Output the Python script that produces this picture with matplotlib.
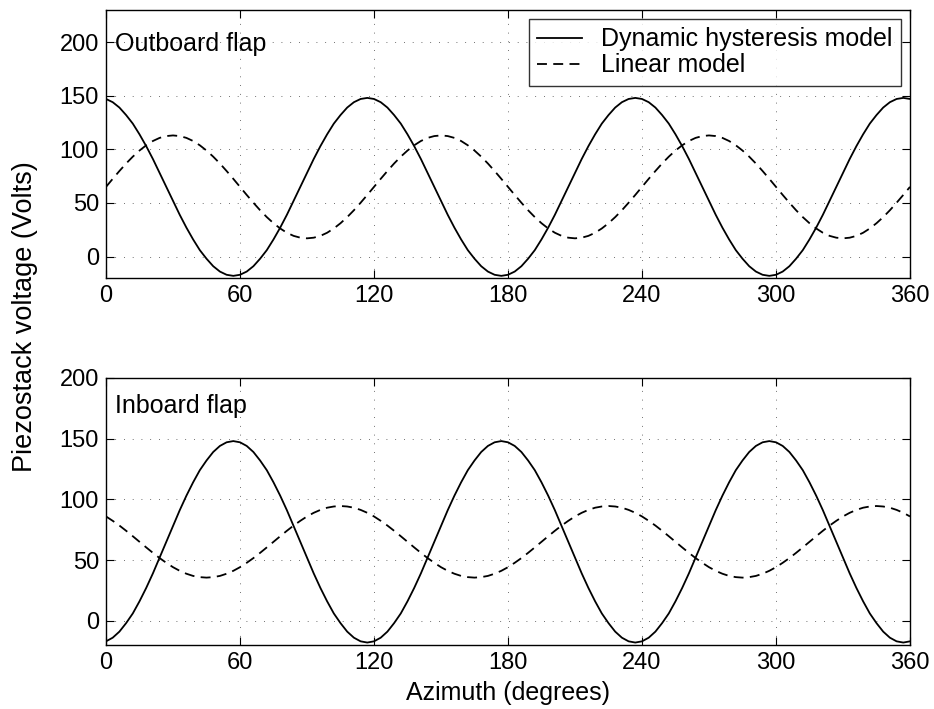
import matplotlib
matplotlib.use("Agg")
import matplotlib.pyplot as plt
import numpy as np

plt.rcParams['font.family'] = ['Liberation Sans', 'DejaVu Sans']

# azimuth samples (degrees), every 3 deg
azimuth = np.arange(0, 361, 3)

# outboard flap (Volts)
outboard_hyst = [
    147, 144, 139, 132, 124, 114, 103, 91, 78, 65, 52, 39, 27, 16, 6, -2, -9, -14, -17, -18,
    -17, -14, -9, -2, 6, 16, 27, 39, 52, 65, 78, 91, 103, 114, 124, 132, 139, 144, 147, 148,
    147, 144, 139, 132, 124, 114, 103, 91, 78, 65, 52, 39, 27, 16, 6, -2, -9, -14, -17, -18,
    -17, -14, -9, -2, 6, 16, 27, 39, 52, 65, 78, 91, 103, 114, 124, 132, 139, 144, 147, 148,
    147, 144, 139, 132, 124, 114, 103, 91, 78, 65, 52, 39, 27, 16, 6, -2, -9, -14, -17, -18,
    -17, -14, -9, -2, 6, 16, 27, 39, 52, 65, 78, 91, 103, 114, 124, 132, 139, 144, 147, 148,
    147]
outboard_lin = [
    65, 72.5, 79.8, 86.8, 93.2, 98.9, 103.8, 107.8, 110.7, 112.4, 113, 112.4, 110.7, 107.8, 103.8, 98.9, 93.2, 86.8, 79.8, 72.5,
    65, 57.5, 50.2, 43.2, 36.8, 31.1, 26.2, 22.2, 19.3, 17.6, 17, 17.6, 19.3, 22.2, 26.2, 31.1, 36.8, 43.2, 50.2, 57.5,
    65, 72.5, 79.8, 86.8, 93.2, 98.9, 103.8, 107.8, 110.7, 112.4, 113, 112.4, 110.7, 107.8, 103.8, 98.9, 93.2, 86.8, 79.8, 72.5,
    65, 57.5, 50.2, 43.2, 36.8, 31.1, 26.2, 22.2, 19.3, 17.6, 17, 17.6, 19.3, 22.2, 26.2, 31.1, 36.8, 43.2, 50.2, 57.5,
    65, 72.5, 79.8, 86.8, 93.2, 98.9, 103.8, 107.8, 110.7, 112.4, 113, 112.4, 110.7, 107.8, 103.8, 98.9, 93.2, 86.8, 79.8, 72.5,
    65, 57.5, 50.2, 43.2, 36.8, 31.1, 26.2, 22.2, 19.3, 17.6, 17, 17.6, 19.3, 22.2, 26.2, 31.1, 36.8, 43.2, 50.2, 57.5,
    65]

# inboard flap
inboard_hyst = [
    -17, -14, -9, -2, 6, 16, 27, 39, 52, 65, 78, 91, 103, 114, 124, 132, 139, 144, 147, 148,
    147, 144, 139, 132, 124, 114, 103, 91, 78, 65, 52, 39, 27, 16, 6, -2, -9, -14, -17, -18,
    -17, -14, -9, -2, 6, 16, 27, 39, 52, 65, 78, 91, 103, 114, 124, 132, 139, 144, 147, 148,
    147, 144, 139, 132, 124, 114, 103, 91, 78, 65, 52, 39, 27, 16, 6, -2, -9, -14, -17, -18,
    -17, -14, -9, -2, 6, 16, 27, 39, 52, 65, 78, 91, 103, 114, 124, 132, 139, 144, 147, 148,
    147, 144, 139, 132, 124, 114, 103, 91, 78, 65, 52, 39, 27, 16, 6, -2, -9, -14, -17, -18,
    -17]
inboard_lin = [
    85.9, 82.3, 78.4, 74.1, 69.6, 65.0, 60.4, 55.9, 51.6, 47.7, 44.1, 41.1, 38.7, 36.9, 35.9, 35.5, 35.9, 36.9, 38.7, 41.1,
    44.1, 47.7, 51.6, 55.9, 60.4, 65.0, 69.6, 74.1, 78.4, 82.3, 85.9, 88.9, 91.3, 93.1, 94.1, 94.5, 94.1, 93.1, 91.3, 88.9,
    85.9, 82.3, 78.4, 74.1, 69.6, 65.0, 60.4, 55.9, 51.6, 47.7, 44.1, 41.1, 38.7, 36.9, 35.9, 35.5, 35.9, 36.9, 38.7, 41.1,
    44.1, 47.7, 51.6, 55.9, 60.4, 65.0, 69.6, 74.1, 78.4, 82.3, 85.9, 88.9, 91.3, 93.1, 94.1, 94.5, 94.1, 93.1, 91.3, 88.9,
    85.9, 82.3, 78.4, 74.1, 69.6, 65.0, 60.4, 55.9, 51.6, 47.7, 44.1, 41.1, 38.7, 36.9, 35.9, 35.5, 35.9, 36.9, 38.7, 41.1,
    44.1, 47.7, 51.6, 55.9, 60.4, 65.0, 69.6, 74.1, 78.4, 82.3, 85.9, 88.9, 91.3, 93.1, 94.1, 94.5, 94.1, 93.1, 91.3, 88.9,
    85.9]

xticks = [0, 60, 120, 180, 240, 300, 360]
yticks = [0, 50, 100, 150, 200]

fig = plt.figure(figsize=(9.34, 7.09), dpi=100)
ax1 = fig.add_axes([0.1135, 0.6079, 0.8608, 0.378])
ax2 = fig.add_axes([0.1135, 0.0903, 0.8608, 0.3766])

fs_tick = 17
fs = 18


def style(ax, ylim):
    ax.set_xlim(0, 360)
    ax.set_ylim(*ylim)
    ax.set_xticks(xticks)
    ax.set_yticks(yticks)
    ax.tick_params(direction='in', top=True, right=True, labelsize=fs_tick, length=6, width=0.8, pad=5)
    ax.grid(True, color='black', linestyle=(0, (1, 9.5)), linewidth=0.6, alpha=0.75)
    for s in ax.spines.values():
        s.set_linewidth(1.0)


ax1.plot(azimuth, outboard_hyst, color='black', lw=1.3, label='Dynamic hysteresis model')
ax1.plot(azimuth, outboard_lin, color='black', lw=1.3, dashes=(5.5, 3.5), label='Linear model')
style(ax1, (-20, 230))
ax1.text(4, 198, 'Outboard flap', fontsize=fs, va='center', ha='left')
leg = ax1.legend(loc='upper right', fontsize=fs, frameon=True, fancybox=False, edgecolor='black',
                 borderaxespad=0.35, handlelength=1.8, borderpad=0.35, labelspacing=0.08,
                 handletextpad=0.75)
leg.get_frame().set_linewidth(1.0)

ax2.plot(azimuth, inboard_hyst, color='black', lw=1.3)
ax2.plot(azimuth, inboard_lin, color='black', lw=1.3, dashes=(5.5, 3.5))
style(ax2, (-20, 200))
ax2.text(4, 177, 'Inboard flap', fontsize=fs, va='center', ha='left')
ax2.set_xlabel('Azimuth (degrees)', fontsize=fs, labelpad=5)

fig.text(0.027, 0.554, 'Piezostack voltage (Volts)', rotation=90, fontsize=19.5, va='center', ha='center')

fig.savefig('out.png', dpi=100)
